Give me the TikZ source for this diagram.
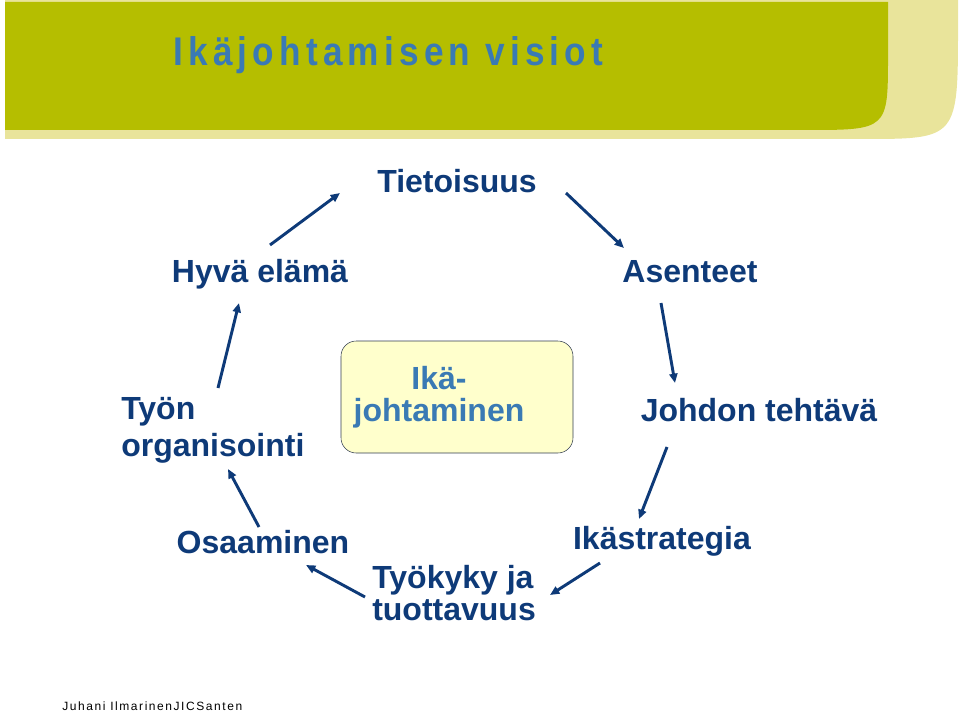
\documentclass[tikz,border=0pt]{standalone}
\usepackage{fontspec}
\setmainfont{Liberation Sans}
\newfontfamily\titlefont{Liberation Sans}[FakeStretch=0.88,LetterSpace=13]
\newfontfamily\footfont{Liberation Sans}[LetterSpace=13]
\usetikzlibrary{positioning,arrows.meta}
\definecolor{ikGreen}{RGB}{181,190,0}
\definecolor{ikLight}{RGB}{233,228,155}
\definecolor{ikDark}{RGB}{14,58,120}
\definecolor{ikBlue}{RGB}{58,122,180}
\definecolor{ikCream}{RGB}{255,255,204}
\definecolor{ikEdge}{RGB}{50,60,80}
\tikzset{
    base/.style={font=\fontsize{24}{28}\selectfont\bfseries, inner sep=0pt},
    stage/.style={base, text=ikDark},
    stagelines/.style={base, text=ikDark, align=left, anchor=north west},
    core/.style={rectangle, rounded corners=4mm, draw=ikEdge, thin, fill=ikCream,
                 minimum width=174pt, minimum height=84pt},
    coretext/.style={font=\fontsize{24}{24}\selectfont\bfseries, text=ikBlue, align=center, inner sep=0pt},
    heading/.style={font=\titlefont\fontsize{30}{34}\selectfont\bfseries, text=ikBlue, anchor=west, inner sep=0pt},
    footer/.style={font=\footfont\fontsize{9}{11}\selectfont, anchor=base west, inner sep=0pt},
    flow/.style={-{Triangle[length=7pt,width=6pt]}, line width=2.2pt, color=ikDark}
}
\begin{document}
\begin{tikzpicture}[x=0.75pt,y=-0.75pt]
  \useasboundingbox (0,0) rectangle (960,713);

  % Header band
  \fill[ikLight] (5,0) -- (958,0) -- (958,25) .. controls (958,139) .. (862,139) -- (5,139) -- cycle;
  \fill[ikGreen] (5,2) -- (888,2) -- (888,55) .. controls (888,130) .. (805,130) -- (5,130) -- cycle;
  \node[heading] (title) at (173,55) {Ikäjohtamisen visiot};

  % Centre
  \node[core] (box) at (457,397) {};
  \node[coretext] (ika) at (439,397) {Ikä-\\johtaminen};

  % Stages
  \node[stage] (tieto) at (457,181) {Tietoisuus};
  \node[stage] (hyva) at (260,274) {Hyvä elämä};
  \node[stage] (asen) at (690,272) {Asenteet};
  \node[stagelines, font=\fontsize{24}{28}\selectfont\bfseries] (tyon) at (121,397) {Työn\\organisointi};
  \node[stage] (johdon) at (759,410) {Johdon tehtävä};
  \node[stage] (osaa) at (263,542) {Osaaminen};
  \node[stage] (ikas) at (662,541) {Ikästrategia};
  \node[stagelines, font=\fontsize{24}{24}\selectfont\bfseries] (tyok) at (372,565) {Työkyky ja\\tuottavuus};

  % Arrow ends
  \coordinate (a1) at (270,245); \coordinate (b1) at (340,193);
  \coordinate (a2) at (566,193); \coordinate (b2) at (624,248);
  \coordinate (a3) at (661,303); \coordinate (b3) at (675,383);
  \coordinate (a4) at (667,447); \coordinate (b4) at (639,519);
  \coordinate (a5) at (600,563); \coordinate (b5) at (550,595);
  \coordinate (a6) at (365,597); \coordinate (b6) at (306,565);
  \coordinate (a7) at (259,527); \coordinate (b7) at (228,469);
  \coordinate (a8) at (218,388); \coordinate (b8) at (239,303);
  \foreach \i in {1,...,8}
    \draw[flow] (a\i) -- (b\i);

  % Footer
  \node[footer] (author) at (62,710) {Juhani IlmarinenJICSanten};
\end{tikzpicture}
\end{document}
